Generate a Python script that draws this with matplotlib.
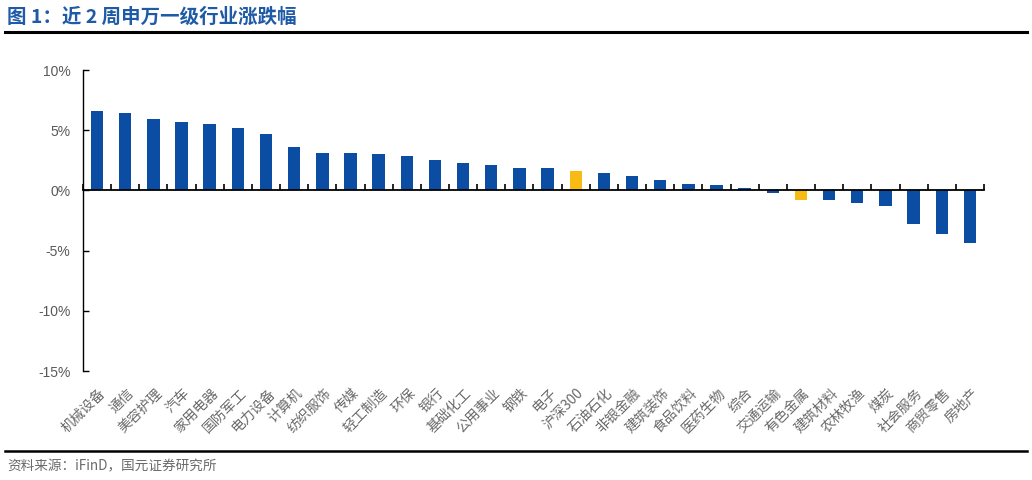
import matplotlib.pyplot as plt
from matplotlib.lines import Line2D
import numpy as np

plt.rcParams['font.family'] = ['Noto Sans CJK SC', 'DejaVu Sans']

#---    Data
industries = ['机械设备', '通信', '美容护理', '汽车', '家用电器', '国防军工', '电力设备', '计算机',
              '纺织服饰', '传媒', '轻工制造', '环保', '银行', '基础化工', '公用事业', '钢铁',
              '电子', '沪深300', '石油石化', '非银金融', '建筑装饰', '食品饮料', '医药生物', '综合',
              '交通运输', '有色金属', '建筑材料', '农林牧渔', '煤炭', '社会服务', '商贸零售', '房地产']
changes = [6.62, 6.43, 5.93, 5.70, 5.54, 5.15, 4.71, 3.62,
           3.13, 3.08, 3.00, 2.87, 2.50, 2.28, 2.10, 1.87,
           1.85, 1.65, 1.43, 1.20, 0.87, 0.54, 0.46, 0.20,
           -0.18, -0.80, -0.80, -1.05, -1.30, -2.80, -3.60, -4.40]
highlight = ['沪深300', '有色金属']
yticks = [10, 5, 0, -5, -10, -15]

blue = '#0A4DA2'
yellow = '#F8BA14'
grey = '#595959'

#---    Figure
fig = plt.figure(figsize=(10.32, 4.8), dpi=100)
ax = fig.add_axes([0.0804, 0.227, 0.8731, 0.627])

x = np.arange(len(industries))
colors = [yellow if c in highlight else blue for c in industries]
ax.bar(x, changes, width=0.44, color=colors, zorder=2)

ax.set_xlim(-0.5, len(industries) - 0.5)
ax.set_ylim(-15, 10)
ax.set_yticks(yticks)
ax.set_yticklabels([str(v) + '%' for v in yticks], fontsize=10, color=grey, family='Liberation Sans')

for s in ['top', 'right']:
    ax.spines[s].set_visible(False)
ax.spines['bottom'].set_position(('data', 0))
ax.spines['bottom'].set_linewidth(1.3)
ax.spines['left'].set_linewidth(1.0)

ax.set_xticks(np.arange(-0.5, len(industries), 1.0))
ax.set_xticklabels([])
ax.tick_params(axis='x', direction='in', length=4, width=1.2, color='black')
ax.tick_params(axis='y', direction='in', length=4, width=1.0, pad=9)

# category labels under plot area
for i, name in enumerate(industries):
    ax.text(i + 0.05, -0.05, name, transform=ax.get_xaxis_transform(), rotation=45,
            ha='right', va='top', fontsize=10, color='#6a6a6a', weight='light',
            rotation_mode='anchor')

#---    Title, rules and source
fig.text(0.007, 0.965, '图 1：近 2 周申万一级行业涨跌幅', fontsize=14, weight='bold',
         color='#1F5AA6', ha='left', va='center')
fig.add_artist(Line2D([0.005, 0.995], [0.934, 0.934], color='black', linewidth=2.2))
fig.add_artist(Line2D([0.005, 0.995], [0.061, 0.061], color='black', linewidth=1.8))
fig.text(0.007, 0.028, '资料来源：iFinD，国元证券研究所', fontsize=9.8, color='#6a6a6a',
         weight='light', ha='left', va='center')

plt.savefig('out.png', dpi=100)
